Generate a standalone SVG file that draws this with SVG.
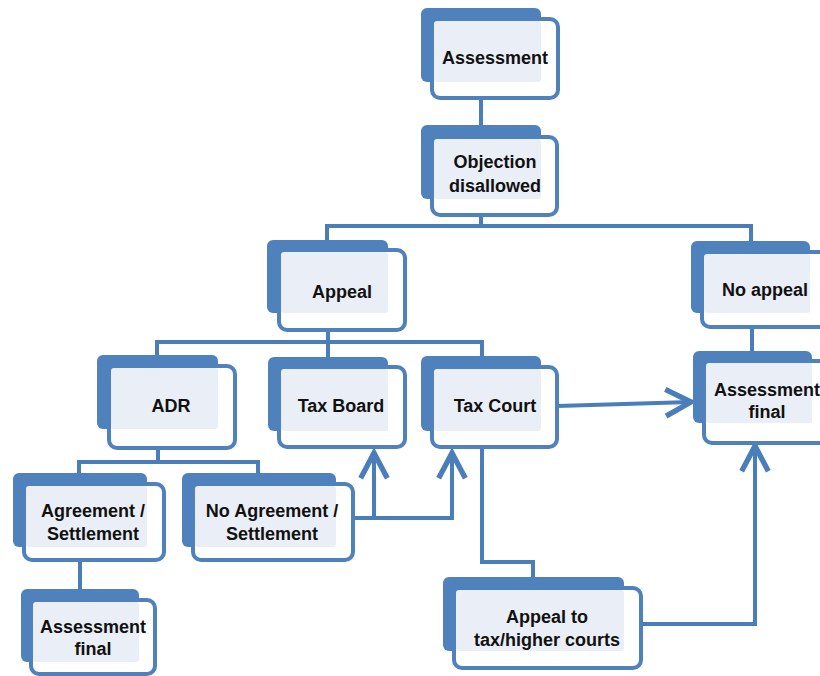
<svg xmlns="http://www.w3.org/2000/svg" width="820" height="676" viewBox="0 0 820 676">
<defs>
<style>
.back{fill:#4F81BD}
.front{fill:#FFFFFF;stroke:#4F81BD;stroke-width:4}
.tint{fill:#EAEFF7}
.lbl{font-family:"Liberation Sans",Arial,sans-serif;font-weight:bold;font-size:18px;fill:#111;text-anchor:middle}
.con{fill:none;stroke:#4A7EBB;stroke-width:4;stroke-linejoin:miter}
</style>
<marker id="arr" markerUnits="userSpaceOnUse" markerWidth="40" markerHeight="40" viewBox="-25 -15 30 30" refX="0" refY="0" orient="auto" overflow="visible">
<path d="M-19,-10 L0,0 L-19,10" fill="none" stroke="#4A7EBB" stroke-width="4"/>
</marker>
</defs>
<rect width="820" height="676" fill="#FFFFFF"/>
<g id="connectors">
<path class="con" d="M481,98 V126"/>
<path class="con" d="M481,215 V226 M327,233 V226 H751 V233"/>
<path class="con" d="M327,226 V241 M751,226 V242"/>
<path class="con" d="M328,330 V342 M157,356 V342 H482 V357 M328,342 V358"/>
<path class="con" d="M752,327 V352"/>
<path class="con" d="M158,448 V462 M79,474 V462 H258 V474"/>
<path class="con" d="M80,560 V590"/>
<path class="con" d="M353,518 H452"/>
<path class="con" d="M374,518 V453" marker-end="url(#arr)"/>
<path class="con" d="M452,520 V453" marker-end="url(#arr)"/>
<path class="con" d="M482,447 V562 H533 V578"/>
<path class="con" d="M557,406 L691,402" marker-end="url(#arr)"/>
<path class="con" d="M641,624 H755 V446" marker-end="url(#arr)"/>
</g>
<g id="assessment">
<rect class="back" x="421" y="8" width="120" height="74" rx="6"/>
<rect class="front" x="432" y="19" width="126" height="79" rx="8"/>
<rect class="tint" x="434" y="21" width="107" height="61" rx="3"/>
<text class="lbl" x="495" y="64">Assessment</text>
</g>
<g id="objection">
<rect class="back" x="421" y="125" width="120" height="74" rx="6"/>
<rect class="front" x="432" y="137" width="125" height="78" rx="8"/>
<rect class="tint" x="434" y="139" width="107" height="60" rx="3"/>
<text class="lbl" x="495" y="168">Objection</text>
<text class="lbl" x="495" y="192">disallowed</text>
</g>
<g id="appeal">
<rect class="back" x="267" y="240" width="121" height="73" rx="6"/>
<rect class="front" x="279" y="250" width="126" height="80" rx="8"/>
<rect class="tint" x="281" y="252" width="107" height="61" rx="3"/>
<text class="lbl" x="342" y="298">Appeal</text>
</g>
<g id="no-appeal">
<rect class="back" x="691" y="241" width="119" height="72" rx="6"/>
<rect class="front" x="702" y="252" width="130" height="75" rx="8"/>
<rect class="tint" x="704" y="254" width="106" height="59" rx="3"/>
<text class="lbl" x="765" y="296">No appeal</text>
</g>
<g id="adr">
<rect class="back" x="97" y="355" width="121" height="74" rx="6"/>
<rect class="front" x="109" y="366" width="126" height="82" rx="8"/>
<rect class="tint" x="111" y="368" width="107" height="61" rx="3"/>
<text class="lbl" x="171" y="412">ADR</text>
</g>
<g id="tax-board">
<rect class="back" x="268" y="357" width="120" height="74" rx="6"/>
<rect class="front" x="279" y="367" width="126" height="80" rx="8"/>
<rect class="tint" x="281" y="369" width="107" height="62" rx="3"/>
<text class="lbl" x="341" y="412">Tax Board</text>
</g>
<g id="tax-court">
<rect class="back" x="421" y="356" width="120" height="75" rx="6"/>
<rect class="front" x="432" y="367" width="125" height="80" rx="8"/>
<rect class="tint" x="434" y="369" width="107" height="62" rx="3"/>
<text class="lbl" x="495" y="412">Tax Court</text>
</g>
<g id="assessment-final-right">
<rect class="back" x="693" y="351" width="119" height="72" rx="6"/>
<rect class="front" x="704" y="361" width="130" height="82" rx="8"/>
<rect class="tint" x="706" y="363" width="106" height="60" rx="3"/>
<text class="lbl" x="767" y="396">Assessment</text>
<text class="lbl" x="767" y="418">final</text>
</g>
<g id="agreement">
<rect class="back" x="13" y="473" width="134" height="74" rx="6"/>
<rect class="front" x="24" y="484" width="140" height="76" rx="8"/>
<rect class="tint" x="26" y="486" width="121" height="61" rx="3"/>
<text class="lbl" x="93" y="517">Agreement /</text>
<text class="lbl" x="93" y="540">Settlement</text>
</g>
<g id="no-agreement">
<rect class="back" x="182" y="473" width="154" height="74" rx="6"/>
<rect class="front" x="193" y="484" width="160" height="76" rx="8"/>
<rect class="tint" x="195" y="486" width="141" height="61" rx="3"/>
<text class="lbl" x="272" y="517">No Agreement /</text>
<text class="lbl" x="272" y="540">Settlement</text>
</g>
<g id="appeal-higher">
<rect class="back" x="443" y="577" width="181" height="74" rx="6"/>
<rect class="front" x="454" y="588" width="187" height="80" rx="8"/>
<rect class="tint" x="456" y="590" width="168" height="61" rx="3"/>
<text class="lbl" x="547" y="623">Appeal to</text>
<text class="lbl" x="547" y="646">tax/higher courts</text>
</g>
<g id="assessment-final-left">
<rect class="back" x="21" y="589" width="118" height="73" rx="6"/>
<rect class="front" x="31" y="600" width="124" height="74" rx="8"/>
<rect class="tint" x="33" y="602" width="106" height="60" rx="3"/>
<text class="lbl" x="93" y="633">Assessment</text>
<text class="lbl" x="93" y="655">final</text>
</g>
</svg>
